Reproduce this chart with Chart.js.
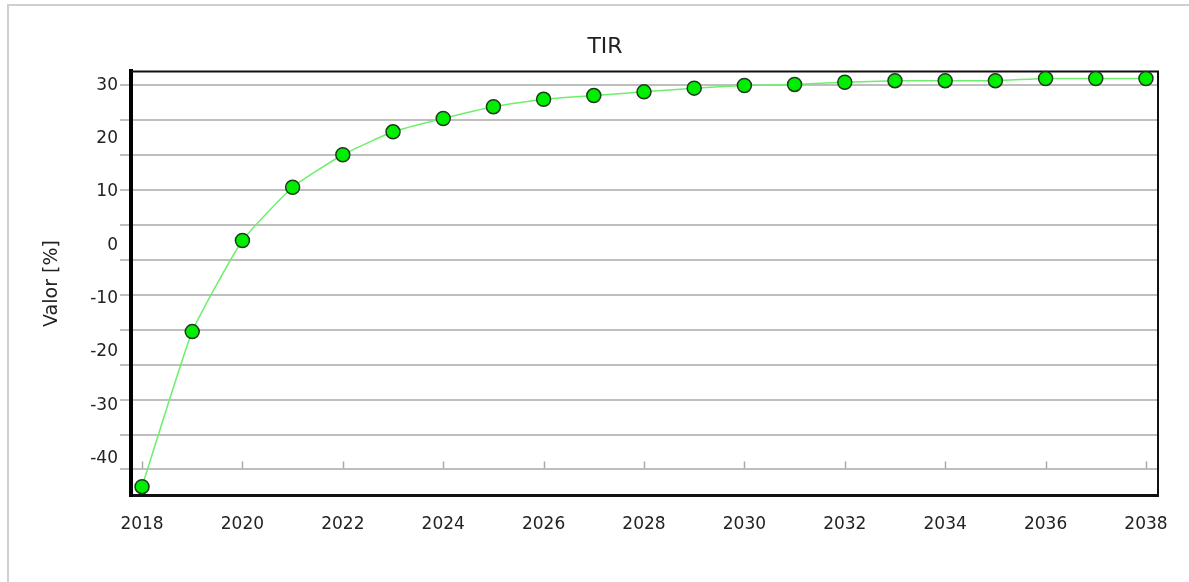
<!DOCTYPE html>
<html>
<head>
<meta charset="utf-8">
<script src="https://cdn.jsdelivr.net/npm/chart.js@4/dist/chart.umd.min.js"></script>
<style>
  html, body { margin: 0; padding: 0; background: #fff; }
  #wrap { position: relative; width: 1189px; height: 582px; overflow: hidden; }
  #frame { position: absolute; left: 7px; top: 4px; width: 1300px; height: 700px;
           border-top: 2px solid #cfcfcf; border-left: 2px solid #cfcfcf; }
  canvas { position: absolute; left: 0; top: 0; }
</style>
</head>
<body>
<div id="wrap">
  <div id="frame"></div>
  <canvas id="tir-chart" width="1189" height="582"></canvas>
</div>
<script>
// years on the x axis
const years = [2018, 2019, 2020, 2021, 2022, 2023, 2024, 2025, 2026, 2027, 2028,
               2029, 2030, 2031, 2032, 2033, 2034, 2035, 2036, 2037, 2038]
// TIR values in %
const tirValues = [-45.3, -16.2, 0.9, 10.9, 17.0, 21.3, 23.8, 26.0, 27.4, 28.1, 28.8,
                   29.5, 30.0, 30.2, 30.6, 30.9, 30.9, 30.9, 31.3, 31.3, 31.3]

const xTickYears = [2018, 2020, 2022, 2024, 2026, 2028, 2030, 2032, 2034, 2036, 2038]
const yTickLabels = [30, 20, 10, 0, -10, -20, -30, -40]
// gray horizontal lines (they don't sit on the labels in the original)
const gridLineValues = [30, 23.45, 16.89, 10.34, 3.79, -2.77, -9.32, -15.87, -22.42, -28.98, -35.53, -42.08]

const yMin = -46.98, yMax = 32.64
const xMin = 2017.78, xMax = 2038.24

const fontFamily = '"DejaVu Sans", Verdana, sans-serif'

// top and right frame of the plot
const plotFrame = {
    id: 'plotFrame',
    beforeDatasetsDraw(chart) {
        const ctx = chart.ctx
        const a = chart.chartArea
        ctx.save()
        ctx.strokeStyle = '#111'
        ctx.lineWidth = 2
        ctx.beginPath()
        ctx.moveTo(a.left, a.top)
        ctx.lineTo(a.right, a.top)
        ctx.lineTo(a.right, a.bottom)
        ctx.stroke()

        // small year ticks standing on the lowest gridline
        const x = chart.scales.x
        const yBase = chart.scales.yGrid.getPixelForValue(gridLineValues[gridLineValues.length - 1])
        ctx.strokeStyle = '#aaa'
        ctx.lineWidth = 1.5
        xTickYears.forEach(yr => {
            const px = Math.round(x.getPixelForValue(yr)) + 0.5
            ctx.beginPath()
            ctx.moveTo(px, yBase - 1)
            ctx.lineTo(px, yBase - 8)
            ctx.stroke()
        })
        ctx.restore()
    }
}

new Chart(document.getElementById('tir-chart'), {
    type: 'line',
    data: {
        datasets: [{
            label: 'TIR',
            data: years.map((yr, i) => ({ x: yr, y: tirValues[i] })),
            borderColor: '#6cf06c',
            borderWidth: 1.5,
            tension: 0.15,
            pointRadius: 7,
            pointHoverRadius: 7,
            pointBackgroundColor: '#00ee00',
            pointBorderColor: '#1d3a1d',
            pointBorderWidth: 1.5,
            clip: false,
            yAxisID: 'yGrid'
        }]
    },
    options: {
        responsive: false,
        animation: false,
        layout: { padding: { left: 52, right: 31, top: 0, bottom: 28 } },
        plugins: {
            legend: { display: false },
            tooltip: { enabled: false },
            title: {
                display: true,
                text: 'TIR',
                color: '#222',
                font: { family: fontFamily, size: 22, weight: 'normal' },
                padding: { top: 34, bottom: 11 }
            }
        },
        scales: {
            x: {
                type: 'linear',
                min: xMin,
                max: xMax,
                afterBuildTicks: s => { s.ticks = xTickYears.map(v => ({ value: v })) },
                grid: { display: false, drawTicks: false },
                border: { display: true, color: '#111', width: 3 },
                ticks: {
                    color: '#222',
                    padding: 19,
                    maxRotation: 0,
                    font: { family: fontFamily, size: 17 },
                    callback: v => String(v)
                }
            },
            yGrid: {
                type: 'linear',
                position: 'left',
                weight: 0,
                min: yMin,
                max: yMax,
                afterBuildTicks: s => { s.ticks = gridLineValues.map(v => ({ value: v })) },
                afterFit: s => { s.width = 11 },
                grid: { color: '#bebebe', lineWidth: 2, tickLength: 11, drawTicks: true },
                border: { display: true, color: '#000', width: 4 },
                ticks: { display: false }
            },
            y: {
                type: 'linear',
                position: 'left',
                weight: 1,
                min: yMin,
                max: yMax,
                afterBuildTicks: s => { s.ticks = yTickLabels.map(v => ({ value: v })) },
                afterFit: s => { s.width = 68 },
                grid: { display: false, drawTicks: false },
                border: { display: false },
                ticks: {
                    color: '#222',
                    padding: 2,
                    font: { family: fontFamily, size: 17 },
                    callback: v => String(v)
                },
                title: {
                    display: true,
                    text: 'Valor [%]',
                    color: '#222',
                    font: { family: fontFamily, size: 19 },
                    padding: { top: -11, bottom: 0 }
                }
            }
        }
    },
    plugins: [plotFrame]
})
</script>
</body>
</html>
